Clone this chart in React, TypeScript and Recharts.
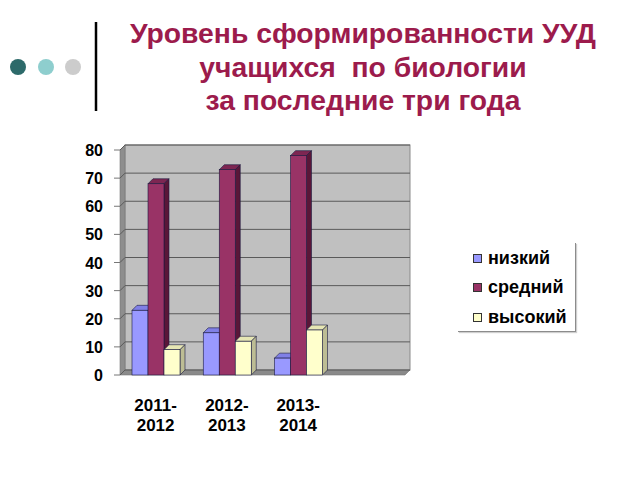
import React from "react";
import {
  BarChart,
  Bar,
  XAxis,
  YAxis,
  CartesianGrid,
  ReferenceArea,
  Legend,
} from "recharts";

// ---- data ----
const categories = ["2011-\n2012", "2012-\n2013", "2013-\n2014", ""];
const lowValues = [23, 15, 6, null];
const midValues = [68, 73, 78, null];
const highValues = [9, 12, 16, null];
const seriesNames = ["низкий", "средний", "высокий"];
const yTicks = [0, 10, 20, 30, 40, 50, 60, 70, 80];
const titleLines = [
  "Уровень сформированности УУД",
  "учащихся  по биологии",
  "за последние три года",
];

const data = categories.map((c, i) => ({
  cat: c,
  low: lowValues[i],
  mid: midValues[i],
  high: highValues[i],
}));

const DEPTH = 5;

const palette: Record<string, { front: string; top: string; side: string }> = {
  low: { front: "#9999ff", top: "#8080e6", side: "#6262b8" },
  mid: { front: "#993366", top: "#7d2652", side: "#5a1638" },
  high: { front: "#ffffcc", top: "#e6e6b4", side: "#bdbd94" },
};

const make3DBar = (key: string) => (props: any) => {
  const { x, y, width, height } = props;
  if (height == null || isNaN(height) || width == null) return <g />;
  const c = palette[key];
  const d = DEPTH;
  return (
    <g>
      <polygon
        points={`${x},${y} ${x + d},${y - d} ${x + width + d},${y - d} ${x + width},${y}`}
        fill={c.top}
        stroke="#1a1a40"
        strokeWidth={0.6}
      />
      <polygon
        points={`${x + width},${y} ${x + width + d},${y - d} ${x + width + d},${y + height - d} ${x + width},${y + height}`}
        fill={c.side}
        stroke="#1a1a40"
        strokeWidth={0.6}
      />
      <rect
        x={x}
        y={y}
        width={width}
        height={height}
        fill={c.front}
        stroke="#1a1a40"
        strokeWidth={0.6}
      />
    </g>
  );
};

const WallShape = (props: any) => {
  const { x, y, width, height } = props;
  const d = DEPTH;
  const bottom = y + height;
  return (
    <g>
      <rect x={x + d} y={y - d} width={width} height={height} fill="#c0c0c0" stroke="#8a8a8a" strokeWidth={1} />
      <polygon
        points={`${x},${y} ${x + d},${y - d} ${x + d},${bottom - d} ${x},${bottom}`}
        fill="#8e8e8e"
        stroke="#777"
        strokeWidth={0.6}
      />
      <polygon
        points={`${x},${bottom} ${x + d},${bottom - d} ${x + width + d},${bottom - d} ${x + width},${bottom}`}
        fill="#8a8a8a"
        stroke="#777"
        strokeWidth={0.6}
      />
    </g>
  );
};

const gridLine = (props: any) => {
  const { x1, y1, x2, y2, index } = props;
  const d = DEPTH;
  return (
    <g key={`gl-${index}-${y1}`}>
      <line x1={x1} y1={y1} x2={x1 + d} y2={y1 - d} stroke="#5a5a5a" strokeWidth={1} />
      <line x1={x1 + d} y1={y1 - d} x2={x2 + d} y2={y2 - d} stroke="#5a5a5a" strokeWidth={1} />
    </g>
  );
};

const XTick = (props: any) => {
  const { x, y, payload } = props;
  const lines = String(payload.value).split("\n");
  return (
    <g>
      {lines.map((l, i) => (
        <text
          key={i}
          x={x}
          y={y + 36 + i * 20}
          textAnchor="middle"
          fontFamily="'Liberation Sans', Arial, sans-serif"
          fontWeight="bold"
          fontSize={17}
          fill="#000"
        >
          {l}
        </text>
      ))}
    </g>
  );
};

const YTick = (props: any) => {
  const { x, y, payload } = props;
  return (
    <text
      x={x}
      y={y + 6}
      textAnchor="end"
      fontFamily="'Liberation Sans', Arial, sans-serif"
      fontWeight="bold"
      fontSize={16}
      fill="#000"
    >
      {payload.value}
    </text>
  );
};

const LegendContent = (props: any) => {
  const payload = [...(props.payload || [])].sort(
    (a: any, b: any) => seriesNames.indexOf(a.value) - seriesNames.indexOf(b.value)
  );
  return (
    <div
      style={{
        width: 117,
        height: 88,
        background: "#fff",
        borderRight: "1px solid #8c8c8c",
        borderBottom: "1px solid #8c8c8c",
        boxShadow: "1px 1px 1px #cfcfcf",
        position: "relative",
      }}
    >
      {payload.map((p: any, i: number) => (
        <div
          key={i}
          style={{
            position: "absolute",
            left: 15,
            top: 5 + i * 29.5,
            height: 20,
            display: "flex",
            alignItems: "center",
            fontFamily: "'Liberation Sans', Arial, sans-serif",
            fontWeight: "bold",
            fontSize: 18,
            color: "#000",
            whiteSpace: "nowrap",
          }}
        >
          <span
            style={{
              display: "inline-block",
              width: 7,
              height: 7,
              background: p.color,
              border: "1px solid #333",
              marginRight: 6,
            }}
          />
          {p.value}
        </div>
      ))}
    </div>
  );
};

export default function App() {
  return (
    <div style={{ position: "absolute", left: 0, top: 0, width: 640, height: 480, background: "#fff" }}>
      <svg width={640} height={130} style={{ position: "absolute", left: 0, top: 0 }}>
        <circle cx={18} cy={67} r={8} fill="#2d6a6a" />
        <circle cx={46} cy={67} r={8} fill="#8ecece" />
        <circle cx={73} cy={67} r={8} fill="#cccccc" />
        <line x1={96} y1={22} x2={96} y2={111} stroke="#000" strokeWidth={2.5} />
        {titleLines.map((t, i) => (
          <text
            key={i}
            x={363}
            y={43 + i * 33.5}
            textAnchor="middle"
            fontFamily="'Liberation Sans', Arial, sans-serif"
            fontWeight="bold"
            fontSize={28.3}
            fill="#9c1b4c"
            style={{ whiteSpace: "pre" }}
            xmlSpace="preserve"
          >
            {t}
          </text>
        ))}
      </svg>
      <div style={{ position: "absolute", left: 0, top: 0 }}>
        <BarChart
          width={640}
          height={480}
          data={data}
          margin={{ top: 150, right: 235, bottom: 65, left: 0 }}
          barGap={0}
        >
          <ReferenceArea y1={0} y2={80} shape={WallShape} ifOverflow="visible" zIndex={-200} />
          <CartesianGrid vertical={false} horizontal={gridLine} zIndex={-150} />
          <XAxis
            dataKey="cat"
            height={40}
            tickLine={false}
            axisLine={false}
            tickSize={0}
            tickMargin={0}
            interval={0}
            tick={<XTick />}
          />
          <YAxis
            width={120}
            domain={[0, 80]}
            ticks={yTicks}
            interval={0}
            axisLine={false}
            tickLine={{ stroke: "#777" }}
            tickSize={6}
            tickMargin={11}
            tick={<YTick />}
          />
          <Legend
            layout="horizontal"
            verticalAlign="middle"
            align="center"
            wrapperStyle={{ position: "absolute", left: 458, top: 243, width: 118, height: 89 }}
            content={<LegendContent />}
          />
          <Bar dataKey="low" name={seriesNames[0]} fill={palette.low.front} barSize={16} isAnimationActive={false} shape={make3DBar("low")} />
          <Bar dataKey="mid" name={seriesNames[1]} fill={palette.mid.front} barSize={16} isAnimationActive={false} shape={make3DBar("mid")} />
          <Bar dataKey="high" name={seriesNames[2]} fill={palette.high.front} barSize={16} isAnimationActive={false} shape={make3DBar("high")} />
        </BarChart>
      </div>
    </div>
  );
}
